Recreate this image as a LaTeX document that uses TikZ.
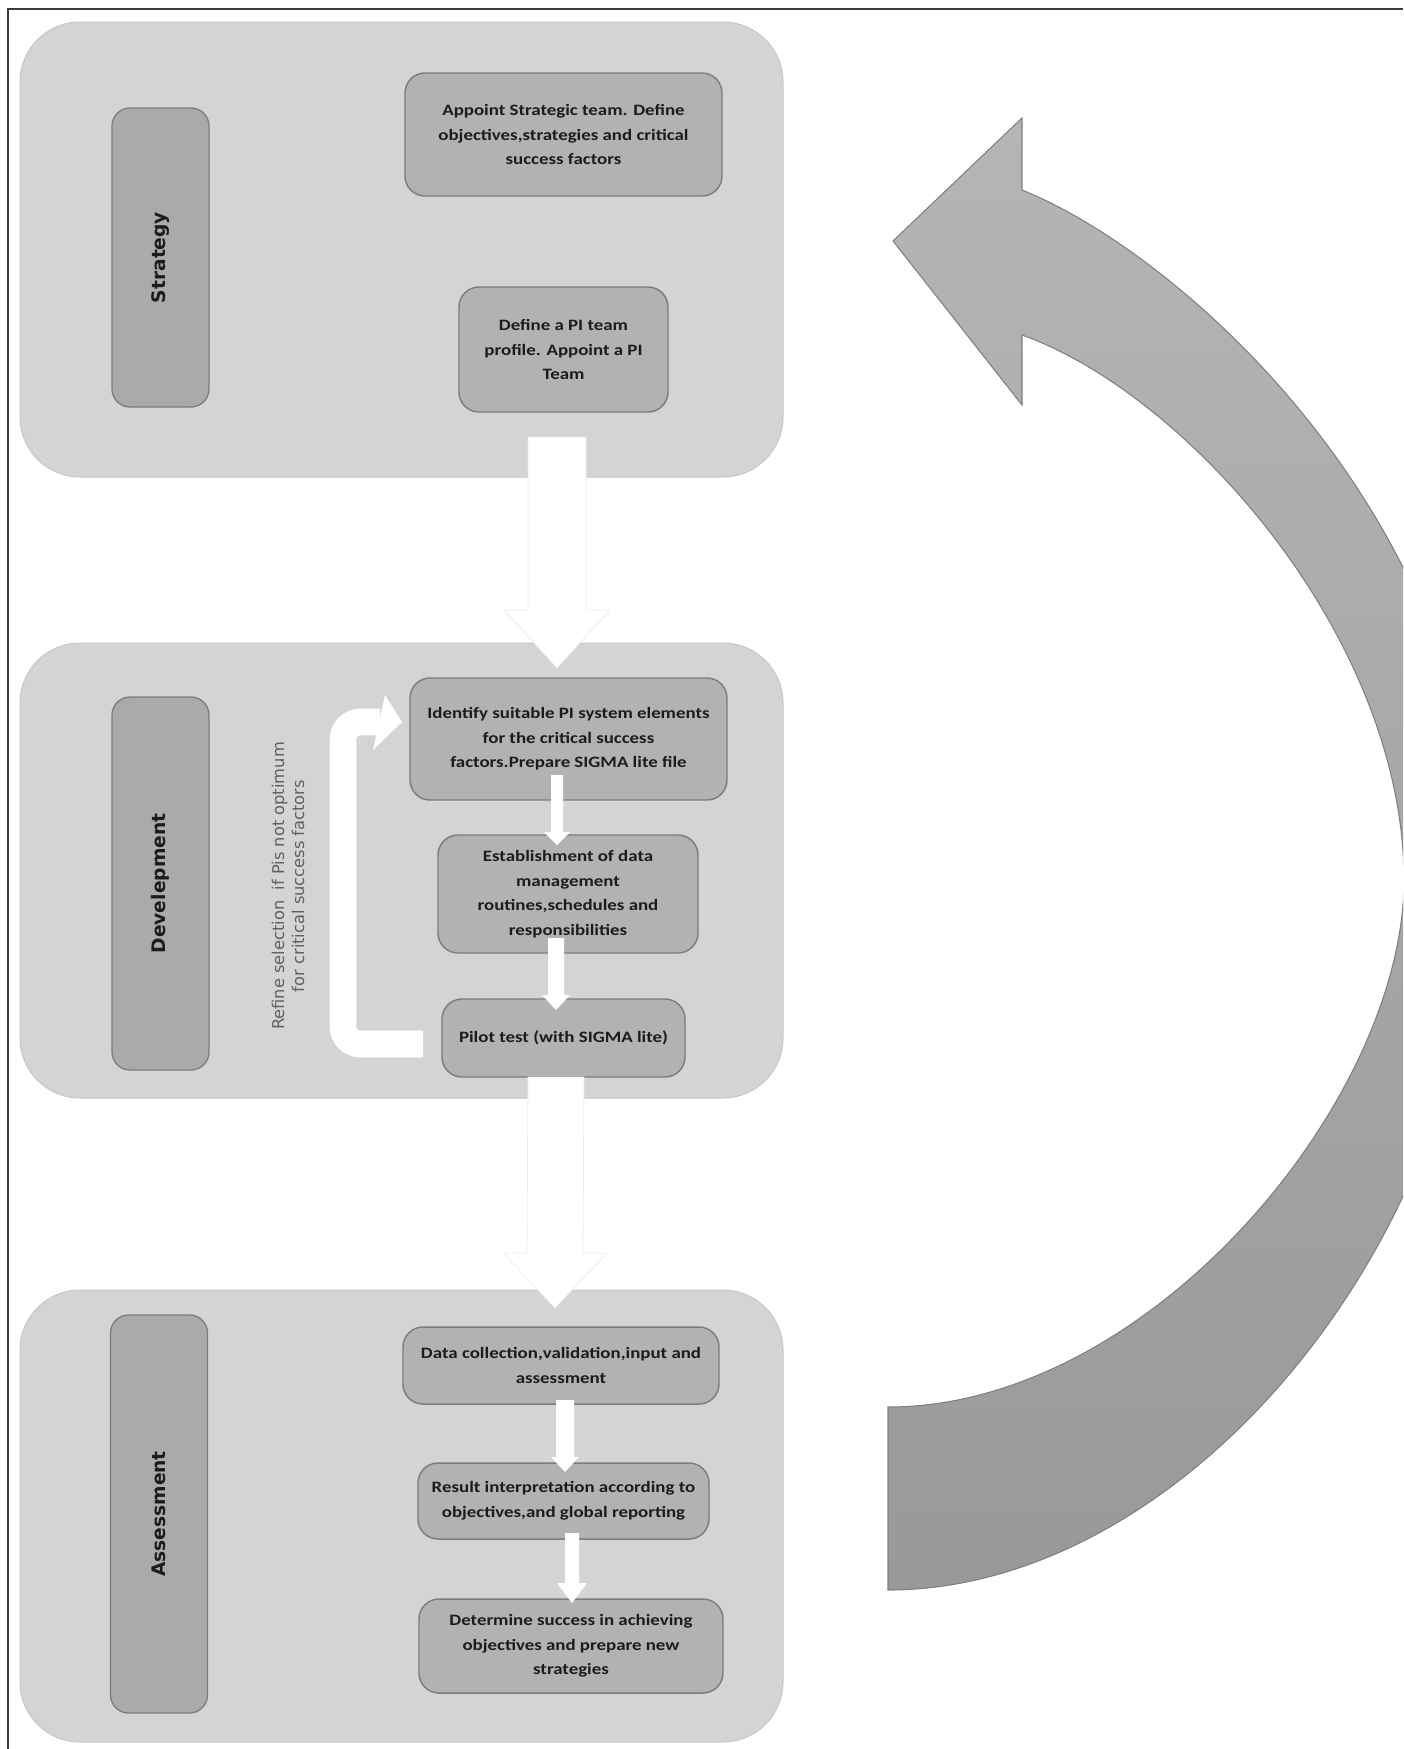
\documentclass[tikz,border=0pt]{standalone}
\usepackage{fontspec}
\usetikzlibrary{calc}
\newfontfamily\boxfont{Carlito}[FakeStretch=1.19]
\newfontfamily\labelfont{DejaVu Sans}

\definecolor{panelgray}{RGB}{212,212,212}
\definecolor{boxgray}{RGB}{178,178,178}
\definecolor{stagegray}{RGB}{170,170,170}
\definecolor{edgegray}{RGB}{125,125,125}
\definecolor{inkgray}{RGB}{28,28,28}
\definecolor{framegray}{RGB}{60,60,60}

\tikzset{every picture/.style={line width=0.75pt}}
\tikzset{
  panel/.style={draw=black!22, fill=panelgray, rounded corners=45pt, inner sep=0pt, outer sep=0pt,
    minimum width=572.25pt, minimum height=341.25pt},
  stage/.style={draw=edgegray, line width=1pt, fill=stagegray, rounded corners=13.5pt, rotate=90,
    inner sep=0pt, outer sep=0pt, minimum height=72.75pt, text=inkgray,
    font=\labelfont\bfseries\fontsize{14}{17}\selectfont},
  stepbox/.style={draw=edgegray, line width=1.1pt, fill=boxgray, rounded corners=15pt, inner sep=0pt,
    outer sep=0pt, align=center, text=inkgray, font=\boxfont\bfseries\fontsize{11.9}{18.4}\selectfont},
  refinetxt/.style={rotate=90, align=center, inner sep=0pt, text=black!62,
    font=\labelfont\fontsize{12.2}{15}\selectfont},
  bigarr/.style={fill=white, draw=black!7, line width=0.6pt},
  loopline/.style={draw=white, line width=20pt, rounded corners=13pt},
  returnarr/.style={draw=black!50, line width=0.8pt, top color=black!29, bottom color=black!40}
}

\begin{document}
\begin{tikzpicture}[x=0.75pt,y=0.75pt,yscale=-1,xscale=1]
\useasboundingbox (0,0) rectangle (1403,1749);
%Straight Lines [frame]
\draw [draw=framegray, line width=1.5pt] (8,1749) -- (8,9) -- (1403,9) ;

%Curve Lines [return arrow]
\begin{scope}
\clip (0,0) rectangle (1403,1749);
\path [returnarr] (1022,190) -- (1022,118) -- (893,241) -- (1022,405) -- (1022,335)
  .. controls (1190,395) and (1404,640) .. (1404,880)
  .. controls (1404,1100) and (1150,1407) .. (888,1407)
  -- (888,1590)
  .. controls (1180,1590) and (1470,1250) .. (1480,880)
  .. controls (1480,520) and (1182,254) .. (1022,190) -- cycle ;
\end{scope}

%Shape: Rounded Rect [panels]
\node [panel] (pan1) at (401.5,249.5) {};
\node [panel] (pan2) at (401.5,870.5) {};
\node [panel, minimum height=339pt] (pan3) at (401.5,1516) {};

% Text Node [stages]
\node [stage, minimum width=224.25pt] (strategy) at (160.5,257.5) {Strategy};
\node [stage, minimum width=279.75pt] (develop) at (160.5,883.5) {Develepment};
\node [stage, minimum width=298.5pt] (assess) at (159,1514) {Assessment};

% Text Node [strategy steps]
\node [stepbox, minimum width=237.75pt, minimum height=92.25pt] (appoint) at (563.5,134.5)
  {Appoint Strategic team. Define\\objectives,strategies and critical\\success factors};
\node [stepbox, minimum width=156.75pt, minimum height=93.75pt] (pidef) at (563.5,349.5)
  {Define a PI team\\profile. Appoint a PI\\Team};

% Text Node [development steps]
\node [stepbox, minimum width=237.75pt, minimum height=91.5pt] (identify) at (568.5,739)
  {Identify suitable PI system elements\\for the critical success\\factors.Prepare SIGMA lite file};
\node [stepbox, minimum width=195pt, minimum height=88.5pt] (establish) at (568,894)
  {Establishment of data\\management\\routines,schedules and\\responsibilities};
\node [stepbox, minimum width=182.25pt, minimum height=58.5pt] (pilot) at (563.5,1038)
  {Pilot test (with SIGMA lite)};

% Text Node [assessment steps]
\node [stepbox, minimum width=237pt, minimum height=57.75pt] (datacoll) at (561,1365.5)
  {Data collection,validation,input and\\assessment};
\node [stepbox, minimum width=218.25pt, minimum height=57pt] (result) at (563.5,1501)
  {Result interpretation according to\\objectives,and global reporting};
\node [stepbox, minimum width=228pt, minimum height=70.5pt] (determine) at (571,1646)
  {Determine success in achieving\\objectives and prepare new\\strategies};

% Text Node [refine note]
\node [refinetxt] (refine) at (288,886)
  {Refine selection\ \ if Pis not optimum\\for critical success factors};

%Shape: Down Arrow [between panels]
\coordinate (b1s) at ($(pidef.south)+(-6.5,25)$);
\coordinate (b1t) at ($(identify.north)+(-11.5,-10)$);
\coordinate (b2s) at ($(pilot.south)+(-7.5,0)$);
\coordinate (b2t) at ($(datacoll.north)+(-6,-19)$);
\foreach \s/\t/\w/\h/\l in {b1s/b1t/29/53/58, b2s/b2t/28/52/55}
  \draw [bigarr] ($(\s)+(-\w,0)$) -- ($(\s)+(\w,0)$) -- ($(\t)+(\w,-\l)$) -- ($(\t)+(\h,-\l)$)
    -- (\t) -- ($(\t)+(-\h,-\l)$) -- ($(\t)+(-\w,-\l)$) -- cycle ;

%Shape: Down Arrow [between steps]
\coordinate (a1s) at ($(identify.south)+(-11.5,-25)$);
\coordinate (a1t) at ($(establish.north)+(-11,10)$);
\coordinate (a2s) at ($(establish.south)+(-12,-15)$);
\coordinate (a2t) at ($(pilot.north)+(-7.5,11)$);
\coordinate (a3s) at ($(datacoll.south)+(4,-4)$);
\coordinate (a3t) at ($(result.north)+(1.5,9)$);
\coordinate (a4s) at ($(result.south)+(8.5,-6)$);
\coordinate (a4t) at ($(determine.north)+(1,4)$);
\foreach \s/\t/\w/\h/\l in {a1s/a1t/6/13/13, a2s/a2t/8/14/15, a3s/a3t/9/14/15, a4s/a4t/7/15/20}
  \fill [white] ($(\s)+(-\w,0)$) -- ($(\s)+(\w,0)$) -- ($(\t)+(\w,-\l)$) -- ($(\t)+(\h,-\l)$)
    -- (\t) -- ($(\t)+(-\h,-\l)$) -- ($(\t)+(-\w,-\l)$) -- cycle ;

%Curve Lines [refine loop]
\coordinate (lp0) at ($(pilot.west)+(-19,6)$);
\coordinate (lpb) at ($(identify.west)+(-30,-17)$);
\coordinate (lpt) at ($(identify.west)+(-8,-17)$);
\draw [loopline] (lp0) -- ++(-80,0) |- (lpb) ;
\fill [white] (lpt) -- ($(lpt)+(-17,-27)$) -- ($(lpt)+(-29,28)$) -- cycle ;
\end{tikzpicture}
\end{document}
